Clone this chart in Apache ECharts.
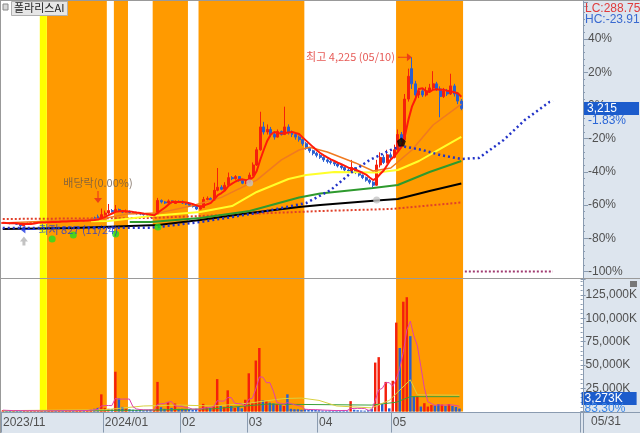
<!DOCTYPE html>
<html><head><meta charset="utf-8">
<script src="https://cdn.jsdelivr.net/npm/echarts@6/dist/echarts.min.js"></script>
<style>html,body{margin:0;padding:0;background:#fff;}#c{width:640px;height:433px;}</style>
</head><body><div id="c"></div>
<script>
// ---------- DATA ----------
const tradingDays = [
  ['2023/11',[17,20,21,22,23,24,27,28,29,30]],
  ['2023/12',[1,4,5,6,7,8,11,12,13,14,15,18,19,20,21,22,26,27,28]],
  ['2024/01',[2,3,4,5,8,9,10,11,12,15,16,17,18,19,22,23,24,25,26,29,30,31]],
  ['2024/02',[1,2,5,6,7,8,13,14,15,16,19,20,21,22,23,26,27,28,29]],
  ['2024/03',[4,5,6,7,8,11,12,13,14,15,18,19,20,21,22,25,26,27,28,29]],
  ['2024/04',[1,2,3,4,5,8,9,11,12,15,16,17,18,19,22,23,24,25,26,29,30]],
  ['2024/05',[2,3,7,8,9,10,13,14,16,17,20,21,22,23,24,27,28,29,30,31]]
];
const monthTickLabels = {'2023/11':'2023/11','2024/01':'2024/01','2024/02':'02','2024/03':'03','2024/04':'04','2024/05':'05'};
const futureSlots = 34;

// [open, close, low, high] in KRW
const ohlc = [
 [950,960,940,975],[960,950,940,970],[950,945,930,960],[945,955,935,965],[955,930,920,960],
 [930,900,827,940],[900,940,895,950],[940,955,930,965],[955,960,945,975],[960,965,950,980],
 [965,970,955,985],[970,975,960,990],[975,965,955,985],[965,980,960,995],[980,985,970,1000],
 [985,975,965,995],[975,990,970,1005],[990,985,975,1000],[985,995,980,1010],[995,1000,985,1015],
 [1000,990,980,1010],[990,1005,985,1020],[1005,1010,995,1030],[1010,1000,990,1025],[1000,1015,995,1030],
 [1015,1020,1005,1040],[1040,1020,1010,1080],[1080,1060,1040,1120],[1060,1120,1050,1240],
 [1120,1150,1100,1200],[1150,1200,1130,1330],[1200,1180,1160,1230],[1180,1220,1170,1310],[1220,1190,1170,1240],
 [1190,1170,1150,1210],[1170,1180,1160,1220],[1180,1160,1140,1200],[1160,1150,1130,1180],[1150,1140,1120,1170],
 [1140,1130,1110,1160],[1130,1120,1100,1150],[1120,1110,1090,1140],[1110,1080,1060,1120],[1080,1100,1070,1130],
 [1100,1400,1090,1450],[1400,1370,1340,1420],[1370,1350,1330,1390],[1350,1390,1340,1420],[1390,1360,1340,1400],
 [1340,1380,1330,1400],[1380,1370,1350,1400],
 [1370,1350,1330,1400],[1350,1330,1310,1370],[1330,1300,1280,1340],[1300,1280,1260,1320],[1280,1230,1210,1290],
 [1230,1260,1220,1300],[1260,1420,1250,1470],[1420,1440,1400,1480],[1440,1410,1390,1460],[1410,1600,1400,1750],
 [1600,1660,1580,2040],[1660,1620,1600,1700],[1620,1700,1600,1760],[1700,1850,1690,1950],[1850,1830,1800,1880],
 [1830,1870,1810,1900],[1870,1790,1770,1880],[1790,1740,1720,1810],[1740,1760,1720,1790],
 [1760,1900,1740,1950],[1900,2100,1880,2150],[2100,2400,2080,2450],[2400,2850,2380,3150],[2850,2750,2700,2950],
 [2750,2800,2700,2900],[2800,2700,2650,2850],[2700,2650,2600,2750],[2650,2760,2640,2800],[2760,2700,2680,2780],
 [2700,2850,2690,3250],[2850,2750,2700,2900],[2750,2700,2650,2780],[2700,2650,2600,2720],[2650,2600,2560,2680],
 [2600,2520,2480,2620],[2520,2430,2400,2550],[2430,2380,2340,2450],[2380,2330,2290,2400],[2330,2290,2250,2360],
 [2290,2250,2220,2320],[2250,2200,2160,2270],[2200,2170,2130,2230],[2170,2150,2110,2200],[2150,2120,2080,2170],
 [2120,2080,2050,2140],[2080,2050,2010,2100],[2050,2000,1970,2070],[2000,1980,1940,2030],[1980,2050,1960,2200],
 [2050,1950,1920,2060],[1950,1900,1870,1960],[1900,1850,1820,1910],[1850,1800,1770,1870],[1800,1760,1720,1820],
 [1760,1700,1650,1780],[1700,2100,1690,2200],[2100,2250,2050,2350],[2250,2150,2120,2300],[2150,2300,2130,2400],
 [2300,2250,2200,2350],
 [2250,2400,2230,2500],[2400,2700,2380,2800],[2700,2600,2550,2750],[2600,3400,2580,3500],[3400,3850,3350,4000],
 [4000,3700,3600,4225],[3700,3480,3420,3760],[3480,3560,3420,3620],[3560,3480,3440,3600],[3480,3560,3450,3640],
 [3560,3620,3520,3700],[3620,3700,3580,3950],[3700,3600,3560,3740],[3600,3450,3040,3650],[3450,3560,3420,3620],
 [3560,3500,3460,3600],[3500,3660,3480,3900],[3660,3500,3450,3700],[3500,3360,3300,3540],[3360,3215,3180,3400]
];
// volume in thousand shares
const volume = [
 1500,1200,900,800,1000,1500,1100,800,700,900,
 800,700,900,1200,1000,800,900,1100,1000,900,1200,1000,1300,1100,1500,2500,3000,4000,18500,
 4000,3000,2500,42700,14000,5000,3000,2500,2000,1800,2000,1500,1800,2000,1500,31800,4700,3000,10000,4000,8700,3000,
 3000,2500,2500,2000,3000,2500,8300,5000,4000,6000,34800,6500,5000,22800,6000,4000,5000,3500,12700,
 41000,9000,54700,68100,12000,11000,9500,8700,8000,7000,6000,18500,3000,2500,2500,2000,2500,2000,1800,2000,
 1500,1200,1000,1300,1100,1200,1000,1500,1200,11200,2000,1500,1200,1000,1500,3000,52500,58300,9000,31800,3500,
 33000,95300,68100,117700,122500,80800,16300,16300,5400,9000,5400,7000,6500,8000,7500,6000,8000,6000,5000,3273
];
// moving-average / indicator lines: [dayIndex, price]
const maOrange = [[0,955],[28,1034],[35,1130],[44,1150],[54,1300],[62,1460],[72,1800],[79,2200],[84,2395],[87,2450],[92,2356],[100,2140],[105,1980],[110,2040],[116,2395],[122,2888],[130,3300]];
const maYellow = [[25,990],[30,994],[42,1093],[56,1172],[65,1290],[72,1567],[81,1823],[86,1902],[94,1961],[106,1951],[112,2000],[118,2178],[124,2415],[130,2652]];
const maGreen = [[36,975],[42,975],[56,1054],[70,1191],[84,1458],[90,1537],[105,1645],[112,1705],[121,1961],[130,2178]];
const maBlack = [[0,838],[20,856],[44,915],[56,1014],[70,1152],[84,1270],[90,1310],[106,1399],[112,1428],[121,1586],[130,1734]];
const spanBlue = [[0,856],[42,860],[56,974],[72,1152],[86,1349],[93,1606],[99,1961],[104,2198],[110,2395],[113,2474],[119,2395],[124,2296],[130,2218],[135,2238],[142,2592],[148,2987],[155,3342],[156,3360]];
const spanRed = [[0,1034],[42,1054],[56,1093],[76,1152],[90,1191],[110,1231],[130,1359]];
const spanPurple = [[131,0],[156,0]];
const volYellow = [[0,1000],[29,2000],[40,6000],[50,7000],[60,6000],[70,9000],[80,14000],[85,14500],[90,12000],[95,6000],[105,4000],[110,12000],[116,34000],[118,18000],[130,17500]];
const volGreen = [[0,800],[40,1500],[60,3000],[75,8000],[105,7000],[112,10000],[116,16000],[130,16000]];
// signal bands [startIdx, endIdx]
const bandsOrange = [[13,29],[32,35],[43,52],[56,85],[112,130]];
const bandsYellow = [[11,12]];
// markers [dayIndex, price]
const buySignals = [[14,639],[20,718],[32,738],[44,876]];
const grayDots = [[70,1744],[106,1409]];
const grayArrow = [[6,600]];
const blackMark = [[113,2553]];
const highPoint = [116,4225], lowPoint = [5,827], exDiv = [27,1349];
const basePrice = 3275;   // 0% reference
const lastPrice = 3215, lastChange = '-1.83%';
const lastVolume = 3273, lastVolRatio = '83.30%';

// ---------- BUILD ----------
const categories = [];
const monthStart = {};
tradingDays.forEach(([m, days]) => {
  days.forEach((d, k) => {
    if (k === 0 && monthTickLabels[m]) monthStart[categories.length] = monthTickLabels[m];
    categories.push(m + '/' + String(d).padStart(2,'0'));
  });
});
for (let k = 1; k <= futureSlots; k++) categories.push('F' + k);

const closes = ohlc.map(r => r[1]);
const ma5 = closes.map((c, i) => {
  const s = closes.slice(Math.max(0, i-4), i+1);
  return +(s.reduce((a,b)=>a+b,0)/s.length).toFixed(1);
});
const vma5 = volume.map((v, i) => {
  const s = volume.slice(Math.max(0, i-4), i+1);
  return +(s.reduce((a,b)=>a+b,0)/s.length).toFixed(1);
});
const bandData = bandsOrange.map(b => [b[0], b[1], '#ff9a00']).concat(bandsYellow.map(b => [b[0], b[1], '#ffff00']));

const UP = '#f4200c', DOWN = '#2a5fd0';
const axisFont = "'Liberation Sans',Arial,sans-serif";
const krFont = "'Noto Sans CJK KR',sans-serif";
const axisCol = '#8a9bb0';
const CLEAR = 'rgba(0,0,0,0)';

function lineS(data, color, width, type, z) {
  return {type:'line', xAxisIndex:1, yAxisIndex:1, data, symbol:'none', silent:true, clip:false,
    lineStyle:{color, width, type: type || 'solid'}, z: z || 3};
}

const chart = echarts.init(document.getElementById('c'), null, {renderer:'canvas'});
const option = {
  animation:false,
  backgroundColor:'#ffffff',
  grid:[
    {left:1, right:57, top:0, bottom:21.4},
    {left:1, right:57, top:2, bottom:161.6},
    {left:1, right:57, top:279, bottom:21.4}
  ],
  xAxis:[0,1,2].map(k => ({
    type:'category', gridIndex:k, data:categories, boundaryGap:true, show:k===2,
    axisLine:{show:false},
    axisTick:{show:k===2, length:21, interval:(i)=>monthStart[i]!==undefined, lineStyle:{color:axisCol}},
    axisLabel:{show:k===2, interval:(i)=>monthStart[i]!==undefined, formatter:(v, i)=>monthStart[i]||'',
      align:'left', margin:5, color:'#505050', fontSize:12, fontFamily:axisFont}
  })),
  yAxis:[
    {gridIndex:0, type:'value', min:0, max:1, show:false},
    {gridIndex:1, type:'value', min:0, max:5315, interval:basePrice*0.2, position:'right',
      axisLine:{show:false}, splitLine:{show:false},
      axisTick:{show:true, length:5, lineStyle:{color:axisCol}},
      minorTick:{show:true, splitNumber:5, length:2, lineStyle:{color:axisCol}},
      axisLabel:{margin:5, color:'#505050', fontSize:12, fontFamily:axisFont, showMaxLabel:false,
        formatter:v => { const p = Math.round(v/basePrice*100-100); return p > 50 ? '' : p + '%'; }}},
    {gridIndex:2, type:'value', min:0, max:142000, interval:25000, position:'right',
      axisLine:{show:false}, splitLine:{show:false},
      axisTick:{show:true, length:5, lineStyle:{color:axisCol}},
      minorTick:{show:true, splitNumber:5, length:2, lineStyle:{color:axisCol}},
      axisLabel:{margin:5, color:'#505050', fontSize:12, fontFamily:axisFont, showMaxLabel:false,
        formatter:v => (v === 0 || v > 130000) ? '' : v.toLocaleString('en-US') + 'K'}}
  ],
  series:[
    {type:'custom', xAxisIndex:0, yAxisIndex:0, silent:true, z:0, clip:false,
      data:bandData.map(b => [b[0], b[1]]),
      renderItem:(params, api) => {
        const w = api.size([1,0])[0];
        const x0 = api.coord([api.value(0),0])[0] - w/2;
        const x1 = api.coord([api.value(1),0])[0] + w/2;
        const cs = params.coordSys;
        return {type:'rect', shape:{x:x0, y:cs.y, width:x1-x0, height:cs.height},
          style:{fill:bandData[params.dataIndex][2]}};
      }},
    {type:'candlestick', xAxisIndex:1, yAxisIndex:1, data:ohlc, barWidth:'70%', z:2, silent:true,
      itemStyle:{color:UP, color0:DOWN, borderColor:UP, borderColor0:DOWN, borderWidth:1},
      markLine:{silent:true, symbol:'none', lineStyle:{color:CLEAR, width:1, type:'solid'},
        label:{show:true, position:'end', distance:1, offset:[0,6], fontFamily:axisFont, fontSize:12, color:'#fff',
          formatter:'{a|' + lastPrice.toLocaleString('en-US') + '}\n{b|' + lastChange + '}',
          rich:{a:{backgroundColor:'#1c5ccc', color:'#fff', width:52, padding:[1,0,0,3], lineHeight:12, fontSize:12, fontFamily:axisFont},
                b:{color:'#2a66d6', padding:[0,0,0,4], lineHeight:12, fontSize:12, fontFamily:axisFont}}},
        data:[{yAxis:lastPrice}]}},
    lineS(spanRed, '#e0402a', 2, [2,2], 2),
    lineS(spanPurple, '#a03a70', 2, [2,2], 2),
    lineS(maBlack, '#000000', 2),
    lineS(maGreen, '#2e9a2e', 2),
    lineS(maYellow, '#ffff2a', 2),
    lineS(maOrange, '#f07a20', 1.5),
    lineS(spanBlue, '#2233c8', 2.5, [2,3], 4),
    {type:'line', xAxisIndex:1, yAxisIndex:1, data:ma5, symbol:'none', silent:true,
      lineStyle:{color:'#ff1a0a', width:2}, z:5},
    {type:'scatter', xAxisIndex:1, yAxisIndex:1, data:buySignals, symbol:'circle', symbolSize:7, z:6, silent:true,
      itemStyle:{color:'#22e022'}},
    {type:'scatter', xAxisIndex:1, yAxisIndex:1, data:grayDots, symbol:'circle', symbolSize:7, z:6, silent:true,
      itemStyle:{color:'#c4c4c4'}},
    {type:'scatter', xAxisIndex:1, yAxisIndex:1, data:grayArrow, z:6, silent:true,
      symbol:'path://M4,0 L8,5 L5.5,5 L5.5,9 L2.5,9 L2.5,5 L0,5 Z', symbolSize:[8,9], itemStyle:{color:'#b4b4b4'}},
    {type:'scatter', xAxisIndex:1, yAxisIndex:1, data:blackMark, z:6, silent:true,
      symbol:'path://M5,0 L10,4 L8,10 L2,10 L0,4 Z', symbolSize:[9,9], itemStyle:{color:'#000'}},
    {type:'scatter', xAxisIndex:1, yAxisIndex:1, data:[highPoint], z:7, silent:true,
      symbol:'path://M0,3.4 L9,3.4 L9,0 L14,4 L9,8 L9,4.6 L0,4.6 Z', symbolSize:[14,8], symbolOffset:[-7,0],
      itemStyle:{color:'#e8281e'},
      label:{show:true, position:'left', distance:3, formatter:'최고 4,225 (05/10)', color:'#e0302a', fontSize:11, fontFamily:krFont}},
    {type:'scatter', xAxisIndex:1, yAxisIndex:1, data:[lowPoint], z:7, silent:true,
      symbol:'path://M16,3.4 L5,3.4 L5,0 L0,4 L5,8 L5,4.6 L16,4.6 Z', symbolSize:[16,8], symbolOffset:[8,0],
      itemStyle:{color:'#1c36e0'},
      label:{show:true, position:'right', distance:2, formatter:'최저 827 (11/24)', color:'#1c36e0', fontSize:11, fontFamily:krFont}},
    {type:'scatter', xAxisIndex:1, yAxisIndex:1, data:[exDiv], z:7, silent:true,
      symbol:'path://M3.4,0 L4.6,0 L4.6,7 L8,7 L4,12 L0,7 L3.4,7 Z', symbolSize:[8,12], symbolOffset:[0,-6],
      itemStyle:{color:'#e8281e'},
      label:{show:true, position:'top', distance:3, formatter:'배당락(0.00%)', color:'#6a5848', fontSize:11, fontFamily:krFont}},
    {type:'bar', xAxisIndex:2, yAxisIndex:2, barWidth:'70%', z:2, silent:true,
      data:volume.map((v, i) => ({value:v, itemStyle:{color: ohlc[i][1] >= ohlc[i][0] ? UP : DOWN}})),
      markLine:{silent:true, symbol:'none', lineStyle:{color:CLEAR, width:1, type:'solid'},
        label:{show:true, position:'end', distance:1, offset:[0,-5], fontFamily:axisFont, fontSize:12, color:'#fff',
          formatter:'{a|' + lastVolume.toLocaleString('en-US') + 'K}\n{b|' + lastVolRatio + '}',
          rich:{a:{backgroundColor:'#1c5ccc', color:'#fff', width:52, padding:[1,0,0,3], lineHeight:11, fontSize:12, fontFamily:axisFont},
                b:{color:'#3a86e6', padding:[0,0,0,3], lineHeight:10, fontSize:12, fontFamily:axisFont}}},
        data:[{yAxis:lastVolume}]}},
    {type:'line', xAxisIndex:2, yAxisIndex:2, data:volGreen, symbol:'none', silent:true, lineStyle:{color:'#3aa03a', width:1}, z:3},
    {type:'line', xAxisIndex:2, yAxisIndex:2, data:volYellow, symbol:'none', silent:true, lineStyle:{color:'#d8d040', width:1}, z:3},
    {type:'line', xAxisIndex:2, yAxisIndex:2, data:vma5, symbol:'none', silent:true, lineStyle:{color:'#e040a8', width:1}, z:4}
  ],
  graphic:[
    {type:'rect', z:-10, shape:{x:583, y:0, width:57, height:433}, style:{fill:'#dde5ee'}},
    {type:'rect', z:-10, shape:{x:0, y:412, width:583, height:21}, style:{fill:'#dde5ee'}},
    {type:'line', z:100, shape:{x1:0, y1:0.5, x2:640, y2:0.5}, style:{stroke:'#999', lineWidth:1}},
    {type:'line', z:100, shape:{x1:0.5, y1:0, x2:0.5, y2:433}, style:{stroke:'#999', lineWidth:1}},
    {type:'line', z:100, shape:{x1:0, y1:278.5, x2:640, y2:278.5}, style:{stroke:'#9a9a9a', lineWidth:1}},
    {type:'line', z:100, shape:{x1:0, y1:412.5, x2:640, y2:412.5}, style:{stroke:axisCol, lineWidth:1}},
    {type:'line', z:100, shape:{x1:583.5, y1:0, x2:583.5, y2:433}, style:{stroke:axisCol, lineWidth:1}},
    {type:'rect', z:100, shape:{x:3, y:4, width:5, height:6}, style:{fill:'#d8d8d8', stroke:'#888', lineWidth:1}},
    {type:'rect', z:100, shape:{x:11.5, y:1.5, width:56, height:14}, style:{fill:'#e6e6e6', stroke:'#b0b0b0', lineWidth:1}},
    {type:'text', z:101, style:{x:14, y:2, text:'폴라리스AI', fill:'#222', font:"11px 'Noto Sans CJK KR'"}},
    {type:'text', z:101, style:{x:585, y:3, text:'LC:288.75', fill:'#e03a3a', font:"12px " + axisFont}},
    {type:'text', z:101, style:{x:585, y:14, text:'HC:-23.91', fill:'#3a6ad0', font:"12px " + axisFont}},
    {type:'text', z:101, style:{x:591, y:416, text:'05/31', fill:'#505050', font:"12px " + axisFont}},
    {type:'rect', z:101, shape:{x:630, y:281, width:7, height:6}, style:{fill:'#777'}}
  ]
};
chart.setOption(option);
</script>
</body></html>
